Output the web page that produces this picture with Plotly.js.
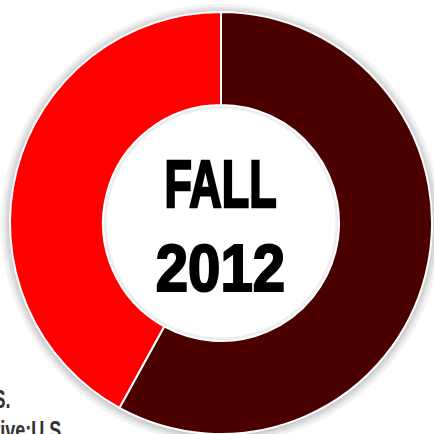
<!DOCTYPE html>
<html><head><meta charset="utf-8">
<script src="https://cdn.plot.ly/plotly-3.0.1.min.js"></script>
<style>html,body{margin:0;padding:0;background:#fff}</style>
</head><body>
<div id="chart" style="width:434px;height:434px"></div>
<script>
const categories = ["Dark share", "Red share"];
const values = [58, 42];
const colors = ["#4b0000", "#ff0000"];
const centerLines = ["FALL", "2012"];
const noteLines = ["U.S.", "Representative:U.S"];

const W = 434, H = 434;
const cx = 221, cy = 223, R = 211, holeR = 118;
const px = v => v / W, py = v => 1 - v / H;

const shapes = [];
[220, 217, 215, 213].forEach(r => {
  shapes.push({type: "circle", xref: "paper", yref: "paper", layer: "below",
    x0: px(cx - r), x1: px(cx + r), y0: py(cy + r + 1), y1: py(cy - r + 1),
    fillcolor: "rgba(0,0,0,0.05)", line: {width: 0}});
});
shapes.push({type: "circle", xref: "paper", yref: "paper", layer: "below",
  x0: px(cx - holeR), x1: px(cx + holeR), y0: py(cy + holeR), y1: py(cy - holeR),
  fillcolor: "#ffffff", line: {width: 0}});
shapes.push({type: "circle", xref: "paper", yref: "paper", layer: "below",
  x0: px(cx - holeR + 2), x1: px(cx + holeR - 2), y0: py(cy + holeR - 2), y1: py(cy - holeR + 2),
  fillcolor: "rgba(0,0,0,0)", line: {width: 3, color: "rgba(0,0,0,0.07)"}});

const trace = {
  type: "pie",
  labels: categories,
  values: values,
  sort: false,
  direction: "clockwise",
  rotation: 0,
  hole: holeR / R,
  marker: {colors: colors, line: {color: "#ffffff", width: 2}},
  textinfo: "none",
  hoverinfo: "none",
  showlegend: false,
  domain: {x: [px(cx - R), px(cx + R)], y: [py(cy + R), py(cy - R)]}
};

const font = "Liberation Sans, Arial, sans-serif";
const annotations = [
  {text: "<b>" + centerLines[0] + "</b>", x: px(cx), y: py(184), xref: "paper", yref: "paper",
   showarrow: false, xanchor: "center", yanchor: "middle", font: {family: font, size: 66, color: "#000"}},
  {text: "<b>" + centerLines[1] + "</b>", x: px(cx), y: py(268), xref: "paper", yref: "paper",
   showarrow: false, xanchor: "center", yanchor: "middle", font: {family: font, size: 66, color: "#000"}},
  {text: "<b>" + noteLines[0] + "</b>", x: px(13), y: py(399), xref: "paper", yref: "paper",
   showarrow: false, xanchor: "right", yanchor: "middle", font: {family: font, size: 25, color: "#333"}},
  {text: "<b>" + noteLines[1] + "</b>", x: px(63), y: py(430), xref: "paper", yref: "paper",
   showarrow: false, xanchor: "right", yanchor: "middle", font: {family: font, size: 25, color: "#333"}}
];
// horizontal condensing per annotation: [scale, anchor, extra stroke]
const squeeze = [[0.68, "c", 2.6], [0.88, "c", 2.2], [0.72, "r", 0], [0.72, "r", 0]];

Plotly.newPlot("chart", [trace], {
  width: W, height: H,
  margin: {l: 0, r: 0, t: 0, b: 0},
  paper_bgcolor: "#fff",
  shapes: shapes,
  annotations: annotations
}, {displayModeBar: false, staticPlot: true}).then(gd => {
  const texts = gd.querySelectorAll("g.annotation text.annotation-text");
  texts.forEach((t, i) => {
    const s = squeeze[i];
    if (!s) return;
    const b = t.getBBox();
    const ax = s[1] === "r" ? b.x + b.width : b.x + b.width / 2;
    t.setAttribute("transform", `translate(${ax},0) scale(${s[0]},1) translate(${-ax},0)`);
    if (s[2]) {
      t.style.stroke = "#000";
      t.style.strokeWidth = s[2] + "px";
      t.style.strokeLinejoin = "miter";
    }
  });
});
</script>
</body></html>
